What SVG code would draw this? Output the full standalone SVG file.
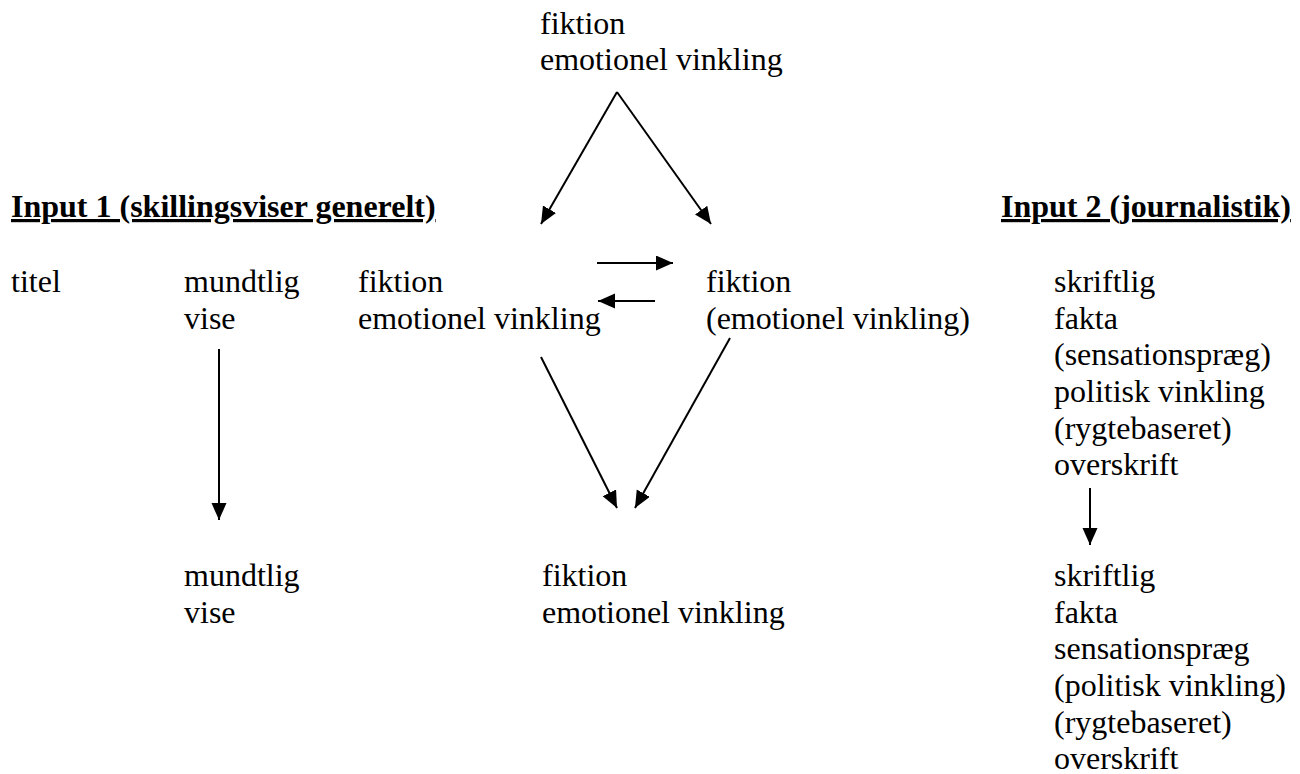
<svg xmlns="http://www.w3.org/2000/svg" width="1300" height="774" viewBox="0 0 1300 774">
<style>
.t{font-family:'Liberation Serif','Times New Roman',Times,serif;font-size:32px;fill:#000}
.h{font-weight:bold;text-decoration:underline}
.c line{stroke:#000;stroke-width:2;fill:none;marker-end:url(#ah)}
</style>
<defs>
<marker id="ah" markerUnits="userSpaceOnUse" markerWidth="18" markerHeight="16" refX="17" refY="7.5" orient="auto">
<path d="M0,0 L17,7.5 L0,15 z" fill="#000"/>
</marker>
</defs>
<rect width="1300" height="774" fill="#fff"/>
<g class="t" font-family="Liberation Serif, Times New Roman, serif" font-size="32">
<g id="top"><text x="540" y="34">fiktion</text><text x="540" y="70">emotionel vinkling</text></g>
<g id="input1"><text class="h" x="11" y="217">Input 1 (skillingsviser generelt)</text></g>
<g id="input2"><text class="h" x="1001" y="217">Input 2 (journalistik)</text></g>
<g id="titel"><text x="11" y="292">titel</text></g>
<g id="mundtlig1"><text x="184" y="292">mundtlig</text><text x="184" y="329">vise</text></g>
<g id="fiktion1"><text x="358" y="292">fiktion</text><text x="358" y="329">emotionel vinkling</text></g>
<g id="fiktion2"><text x="706" y="292">fiktion</text><text x="706" y="329">(emotionel vinkling)</text></g>
<g id="journ1">
<text x="1054" y="292">skriftlig</text>
<text x="1054" y="329">fakta</text>
<text x="1054" y="365">(sensationspræg)</text>
<text x="1054" y="402">politisk vinkling</text>
<text x="1054" y="439">(rygtebaseret)</text>
<text x="1054" y="475">overskrift</text>
</g>
<g id="mundtlig2"><text x="184" y="586">mundtlig</text><text x="184" y="623">vise</text></g>
<g id="fiktion3"><text x="542" y="586">fiktion</text><text x="542" y="623">emotionel vinkling</text></g>
<g id="journ2">
<text x="1054" y="586">skriftlig</text>
<text x="1054" y="623">fakta</text>
<text x="1054" y="659">sensationspræg</text>
<text x="1054" y="696">(politisk vinkling)</text>
<text x="1054" y="733">(rygtebaseret)</text>
<text x="1054" y="769">overskrift</text>
</g>
</g>
<g id="connectors" class="c">
<line x1="617" y1="92" x2="541" y2="224"/>
<line x1="617" y1="92" x2="711" y2="224"/>
<line x1="597" y1="263" x2="673" y2="263"/>
<line x1="655" y1="301" x2="598" y2="301"/>
<line x1="219" y1="349" x2="219" y2="520"/>
<line x1="541" y1="357" x2="617" y2="508"/>
<line x1="730" y1="338" x2="635" y2="508"/>
<line x1="1090" y1="488" x2="1090" y2="545"/>
</g>
</svg>
